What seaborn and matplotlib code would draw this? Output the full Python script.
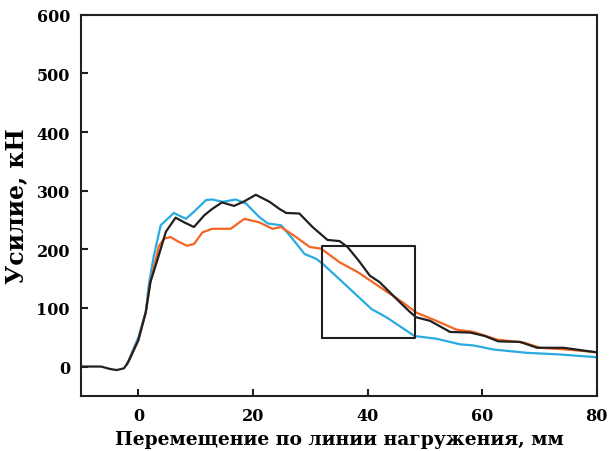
import numpy as np
import pandas as pd
import matplotlib
matplotlib.use("Agg")
import matplotlib.pyplot as plt
import seaborn as sns

black_x = [-10, -6.5, -5, -3.8, -2.5, -1.7, 0, 1.3, 2.1, 3.2, 4.8, 6.5, 8, 9.7, 11.5, 12.9, 14.6, 16.7, 18.5, 20.5, 22.9, 24.6, 25.8, 28.1, 30.4, 33, 35.1, 36.5, 38.5, 40.4, 42.1, 45.6, 47.4, 48.5, 50.9, 54.4, 57.9, 60.5, 62.8, 66.6, 69.6, 74.2, 79.8]
black_y = [0, 0, -4, -6, -3, 9, 45, 93, 144, 178, 230, 254, 246, 238, 258, 269, 280, 274, 282, 293, 281, 269, 262, 261, 238, 216, 214, 204, 180, 155, 144, 110, 93, 84, 78, 59, 58, 52, 43, 42, 32, 32, 24.5]

orange_x = [-2, 0, 1.3, 2.1, 3.6, 4.5, 5.6, 7, 8.5, 9.7, 11.2, 12.9, 16.1, 18.5, 21.1, 23.4, 24.9, 27.5, 29.9, 31.9, 35.1, 38.3, 42.7, 46.2, 48.5, 52, 55.5, 58.5, 62.6, 67.2, 70.1, 74.8, 79.8]
orange_y = [3, 45, 93, 144, 206, 218, 221, 213, 206, 209, 229, 235, 235, 252, 246, 235, 238, 221, 204, 201, 178, 161, 132, 109, 92, 78, 63, 59, 46, 41, 32, 29, 24.5]

cyan_x = [-2, 0, 1.3, 1.8, 2.7, 3.9, 6.2, 8.3, 9.7, 11.8, 12.9, 14.7, 17, 18.8, 21.1, 22.6, 24.9, 26.9, 29, 31, 32.2, 36.3, 40.7, 43.3, 48.2, 52, 56.1, 58.5, 62, 67.8, 73.6, 79.8]
cyan_y = [3.4, 50, 93, 138, 189, 241, 262, 252, 264, 284, 285, 281, 285, 278, 255, 244, 241, 218, 192, 184, 175, 138, 98, 84, 52, 47.5, 38, 36, 29, 23.4, 20.6, 16]

rect_x = [32, 48.3]
rect_y = [48, 206]

x_ticks = [0, 20, 40, 60, 80]
y_ticks = [0, 100, 200, 300, 400, 500, 600]

sns.set_theme(style="ticks")
plt.rcParams['font.family'] = ['DejaVu Serif']
plt.rcParams['font.weight'] = 'bold'
plt.rcParams['text.color'] = 'black'
plt.rcParams['axes.labelcolor'] = 'black'
plt.rcParams['xtick.color'] = 'black'
plt.rcParams['ytick.color'] = 'black'

df = pd.concat([
    pd.DataFrame({"x": cyan_x, "y": cyan_y, "s": "cyan"}),
    pd.DataFrame({"x": orange_x, "y": orange_y, "s": "orange"}),
    pd.DataFrame({"x": black_x, "y": black_y, "s": "black"}),
], ignore_index=True)

fig = plt.figure(figsize=(6.14, 4.52), dpi=100)
ax = fig.add_axes([0.132, 0.122, 0.840, 0.843])
sns.lineplot(data=df, x="x", y="y", hue="s", sort=False, estimator=None,
             palette={"cyan": "#29abe2", "orange": "#f26522", "black": "#231f20"},
             linewidth=1.6, legend=False, ax=ax)

ax.plot([rect_x[0], rect_x[1], rect_x[1], rect_x[0], rect_x[0]],
        [rect_y[0], rect_y[0], rect_y[1], rect_y[1], rect_y[0]],
        color="#231f20", linewidth=1.5)

ax.set_xlim(-10, 80)
ax.set_ylim(-50, 600)
ax.set_xticks(x_ticks)
ax.set_yticks(y_ticks)
ax.tick_params(direction="in", length=5, width=1.5, labelsize=11.5, pad=8,
               colors="#231f20", labelcolor="black")
for lab in ax.get_xticklabels() + ax.get_yticklabels():
    lab.set_fontweight("bold")
for sp in ax.spines.values():
    sp.set_visible(True)
    sp.set_linewidth(1.5)
    sp.set_color("#231f20")
ax.set_xlabel("Перемещение по линии нагружения, мм", fontsize=13.5, fontweight="bold",
              labelpad=4, color="black")
ax.set_ylabel("Усилие, кН", fontsize=17, fontweight="bold", labelpad=6, color="black")

fig.savefig("out.png", dpi=100)
